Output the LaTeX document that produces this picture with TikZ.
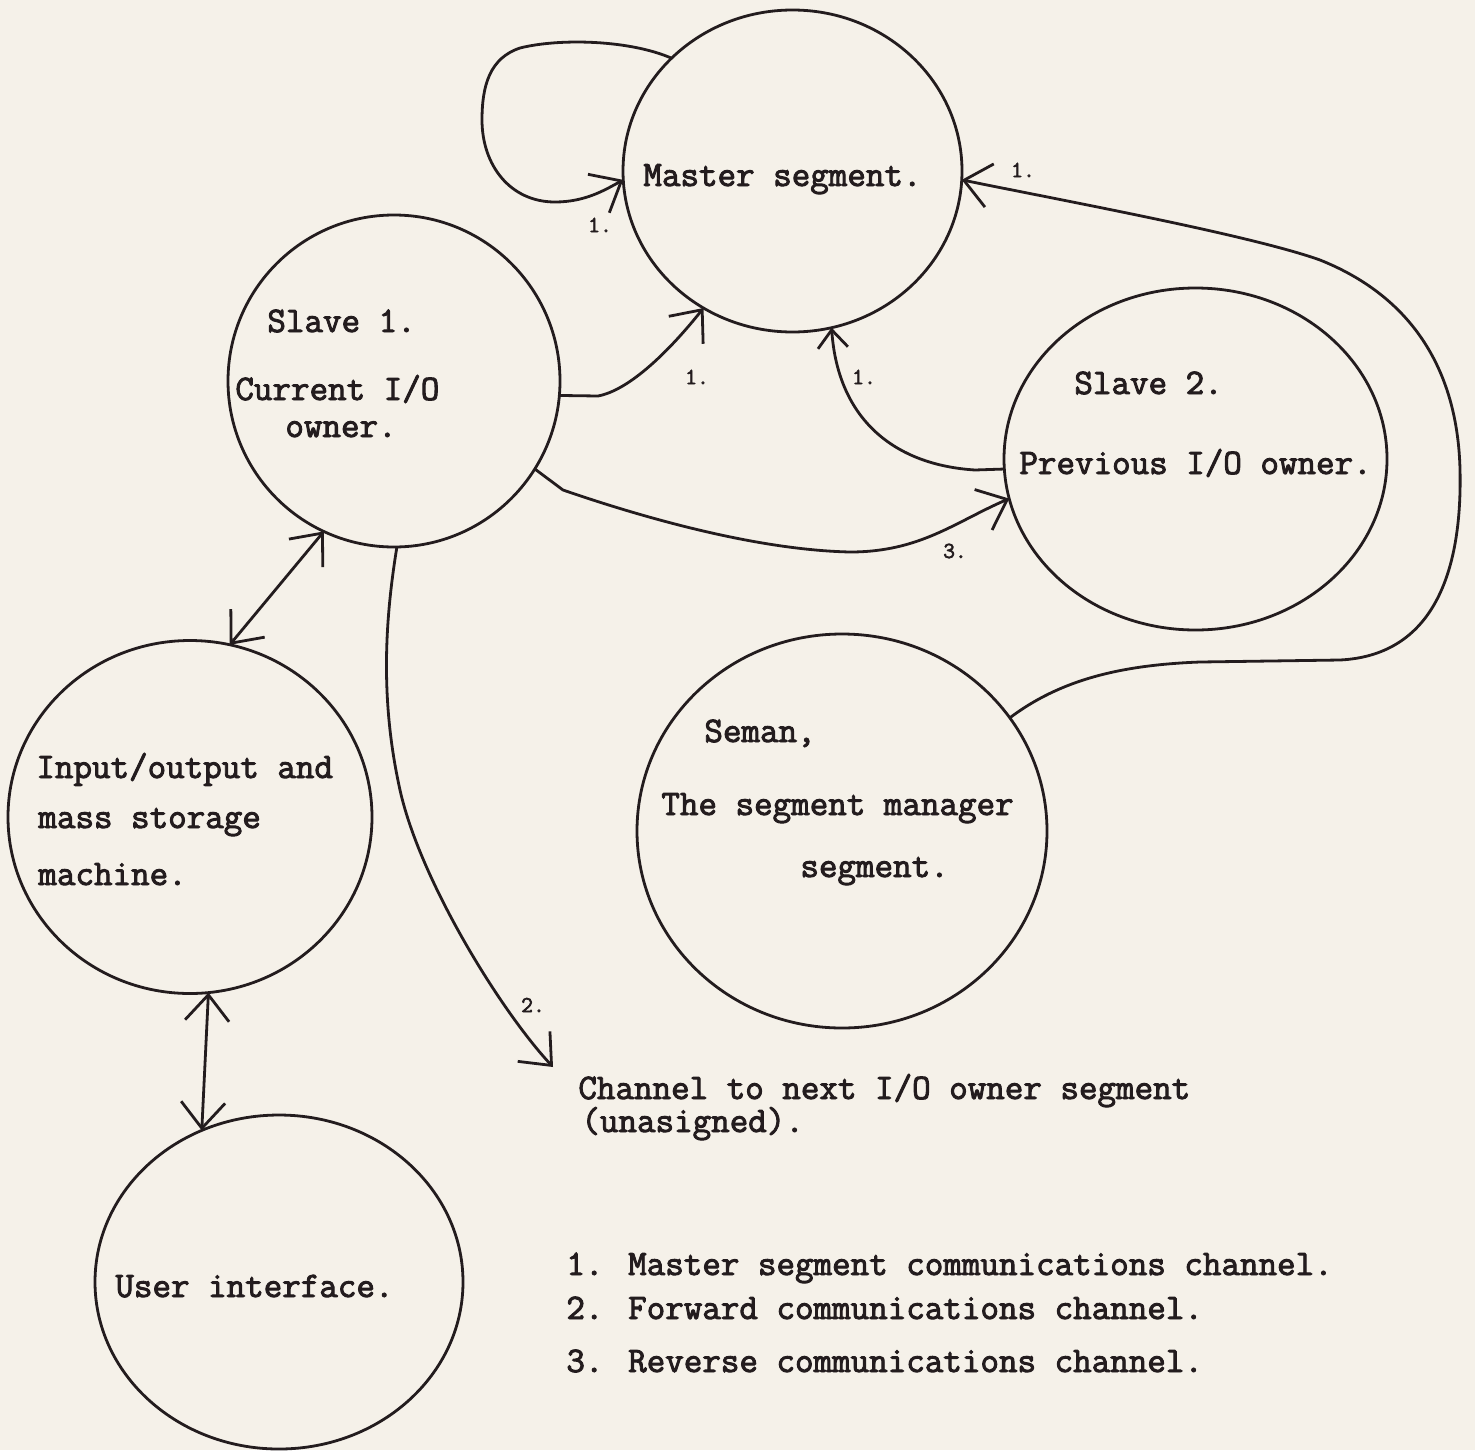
\documentclass[tikz,border=0pt]{standalone}
\usepackage{fontspec}
\newfontfamily\twfont[FakeBold=2.6]{Latin Modern Mono}
\usetikzlibrary{shapes.geometric,arrows.meta}
\definecolor{paper}{RGB}{245,241,233}
\definecolor{ink}{RGB}{35,28,30}
\begin{document}
\begin{tikzpicture}[x=0.5pt,y=-0.5pt,
  seg/.style={draw=ink, ellipse, line width=1.4pt, inner sep=0pt, outer sep=0pt},
  lbl/.style={anchor=base west, inner sep=0pt, text=ink, font=\twfont\fontsize{18}{16.5}\selectfont},
  num/.style={inner sep=0pt, text=ink, font=\twfont\fontsize{11.5}{13}\selectfont},
  wire/.style={draw=ink, line width=1.4pt},
  arr/.style={-{Straight Barb[length=13pt,width=22pt]}},
  arrsmall/.style={-{Straight Barb[length=9pt,width=15pt]}},
  arrboth/.style={{Straight Barb[length=13pt,width=22pt]}-{Straight Barb[length=13pt,width=22pt]}}
]
\fill[paper] (0,0) rectangle (1475,1450);
\useasboundingbox (0,0) rectangle (1475,1450);

% segments
\node[seg, minimum width=169.5pt, minimum height=161pt] (M) at (792.5,171) {};
\node[seg, minimum width=166pt, minimum height=166pt] (S1) at (394,381) {};
\node[seg, minimum width=191.5pt, minimum height=171pt] (S2) at (1195.5,459) {};
\node[seg, minimum width=205pt, minimum height=197pt] (SM) at (842,831) {};
\node[seg, minimum width=182pt, minimum height=176.5pt] (IO) at (190,817) {};
\node[seg, minimum width=184pt, minimum height=167pt] (UI) at (279,1282) {};

% texts
\node[lbl] (tM) at (643,186) {Master segment.};
\node[lbl] (tS1a) at (267,332) {Slave 1.};
\node[lbl] (tS1b) at (235,400) {Current I/O};
\node[lbl] (tS1c) at (285,437) {owner.};
\node[lbl] (tS2a) at (1074,394) {Slave 2.};
\node[lbl] (tS2b) at (1019,474) {Previous I/O owner.};
\node[lbl] (tSMa) at (704,742) {Seman,};
\node[lbl] (tSMb) at (661,815) {The segment manager};
\node[lbl] (tSMc) at (800,877) {segment.};
\node[lbl] (tIOa) at (36,778) {Input/output and};
\node[lbl] (tIOb) at (38,828) {mass storage};
\node[lbl] (tIOc) at (38,885) {machine.};
\node[lbl] (tUI) at (115,1297) {User interface.};
\node[lbl, text depth=0pt] (tCHa) at (578,1099) {Channel to next I/O owner segment};
\node[lbl, text height=11pt] (tCHb) at (581,1132) {(unasigned).};
\node[lbl] (leg1) at (566,1275) {1. Master segment communications channel.};
\node[lbl] (leg2) at (566,1319) {2. Forward communications channel.};
\node[lbl] (leg3) at (566,1372) {3. Reverse communications channel.};

% connectors
\draw[wire, arr] (M.137) .. controls (630,40) and (560,38) .. (520,48)
  .. controls (490,58) and (482,85) .. (482,120)
  .. controls (482,165) and (510,202) .. (555,202)
  .. controls (585,202) and (605,190) .. (M.183);
\draw[wire, arr] (S1.355) -- (598,396) .. controls (630,390) and (670,350) .. (M.237.8);
\draw[wire, arrsmall] (S2.183) -- (975,470) .. controls (895,465) and (838,420) .. (M.284);
\draw[wire, arr] (S1.328) -- (563,490) .. controls (650,520) and (760,550) .. (850,552)
  .. controls (920,552) and (955,522) .. (S2.192);
\draw[wire, arr] (SM.34) .. controls (1060,680) and (1120,665) .. (1200,662) -- (1340,660)
  .. controls (1440,655) and (1462,560) .. (1460,470)
  .. controls (1458,380) and (1420,300) .. (1320,260)
  .. controls (1250,235) and (1060,200) .. (M.357.6);
\draw[wire, arrboth] (S1.245) -- (IO.77.5);
\draw[wire, arrboth] (IO.276) -- (UI.117);
\coordinate (chEnd) at (553,1067);
\draw[wire, arr] (S1.271) .. controls (385,620) and (380,700) .. (400,790)
  .. controls (420,880) and (500,1010) .. (chEnd);

% channel labels
\node[num] (n1a) at (600,225) {1.};
\node[num] (n1b) at (697,377) {1.};
\node[num] (n1c) at (864,377) {1.};
\node[num] (n1d) at (1023,170) {1.};
\node[num] (n3) at (955,551) {3.};
\node[num] (n2) at (533,1005) {2.};
\end{tikzpicture}
\end{document}
